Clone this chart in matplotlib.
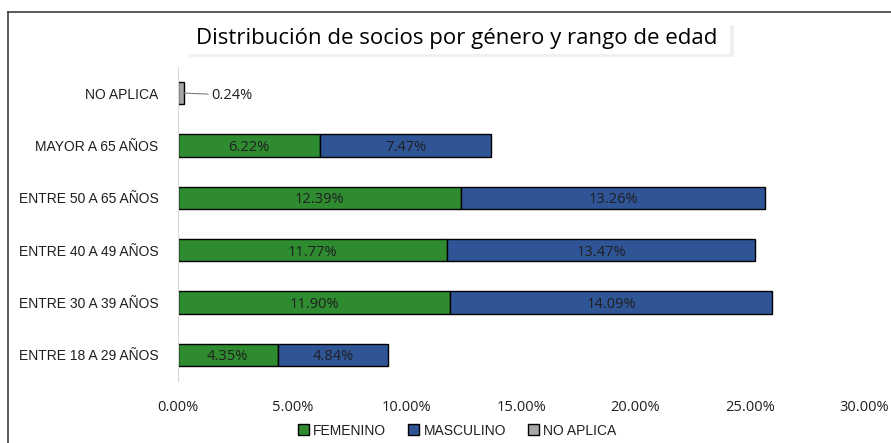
import matplotlib.pyplot as plt
from matplotlib.patches import Rectangle
from matplotlib.ticker import FuncFormatter

# ── data ─────────────────────────────────────
categories = ["ENTRE 18 A 29 AÑOS", "ENTRE 30 A 39 AÑOS", "ENTRE 40 A 49 AÑOS",
              "ENTRE 50 A 65 AÑOS", "MAYOR A 65 AÑOS", "NO APLICA"]
femenino  = [4.35, 11.90, 11.77, 12.39, 6.22, 0.0]
masculino = [4.84, 14.09, 13.47, 13.26, 7.47, 0.0]
no_aplica = [0.0, 0.0, 0.0, 0.0, 0.0, 0.24]
x_ticks   = [0, 5, 10, 15, 20, 25, 30]

GREEN = "#2e8b30"
BLUE  = "#2f5597"
GRAY  = "#a6a6a6"
TXT   = "#1f1f1f"
LAB_FONT = ["Liberation Sans", "DejaVu Sans"]
NUM_FONT = ["Open Sans", "DejaVu Sans"]

plt.rcParams["font.family"] = LAB_FONT

fig = plt.figure(figsize=(8.91, 4.43), dpi=100)
ax = fig.add_axes([0.1998, 0.140, 0.770, 0.709])

y = list(range(len(categories)))
h = 0.43
ax.barh(y, femenino, height=h, color=GREEN, edgecolor="black", linewidth=1.0,
        label="FEMENINO")
ax.barh(y, masculino, left=femenino, height=h, color=BLUE, edgecolor="black",
        linewidth=1.0, label="MASCULINO")
ax.barh(y, no_aplica, height=h, color=GRAY, edgecolor="black", linewidth=1.0,
        label="NO APLICA")

for i in y:
    if femenino[i] > 0:
        ax.text(femenino[i] / 2, i, f"{femenino[i]:.2f}%", ha="center",
                va="center_baseline", fontsize=10.5, color=TXT, family=NUM_FONT)
    if masculino[i] > 0:
        ax.text(femenino[i] + masculino[i] / 2, i, f"{masculino[i]:.2f}%",
                ha="center", va="center_baseline", fontsize=10.5, color=TXT,
                family=NUM_FONT)
    if no_aplica[i] > 0:
        ax.annotate(f"{no_aplica[i]:.2f}%", xy=(no_aplica[i], i),
                    xytext=(no_aplica[i] + 1.2, i), ha="left",
                    va="center_baseline", fontsize=10.5, color=TXT, family=NUM_FONT,
                    arrowprops=dict(arrowstyle="-", color="#7f7f7f", lw=0.8,
                                    shrinkA=0, shrinkB=0))

ax.set_xlim(0, 30)
ax.set_ylim(-0.5, len(categories) - 0.5)
ax.set_xticks(x_ticks)
ax.xaxis.set_major_formatter(FuncFormatter(lambda v, p: f"{v:.2f}%"))
ax.set_yticks(y)
ax.set_yticklabels(categories, fontsize=10)
ax.tick_params(axis="both", length=0, colors=TXT)
ax.tick_params(axis="x", pad=14)
ax.tick_params(axis="y", pad=14)
for lab in ax.get_xticklabels():
    lab.set_family(NUM_FONT)
    lab.set_fontsize(10.5)
for s in ["top", "right", "bottom"]:
    ax.spines[s].set_visible(False)
ax.spines["left"].set_color("#d9d9d9")

# title with soft shadowed box
fig.patches.append(Rectangle((0.212, 0.872), 0.612, 0.072, transform=fig.transFigure,
                             facecolor="#f0f0f0", edgecolor="none", zorder=0))
fig.patches.append(Rectangle((0.207, 0.878), 0.612, 0.072, transform=fig.transFigure,
                             facecolor="white", edgecolor="none", zorder=1))
fig.text(0.513, 0.914, "Distribución de socios por género y rango de edad",
         ha="center", va="center", fontsize=16, color="black",
         family=NUM_FONT, zorder=2)

# outer frame (left and top edges visible)
fig.add_artist(plt.Line2D([0.009, 0.009], [0.0, 0.973], transform=fig.transFigure,
                          color="#404040", lw=1.2))
fig.add_artist(plt.Line2D([0.009, 1.0], [0.973, 0.973], transform=fig.transFigure,
                          color="#404040", lw=1.2))

fig.legend(handles=ax.containers, labels=["FEMENINO", "MASCULINO", "NO APLICA"],
           loc="center", bbox_to_anchor=(0.513, 0.028), ncol=3, frameon=False,
           fontsize=10, handlelength=0.8, handleheight=0.8, handletextpad=0.3,
           columnspacing=1.6, labelcolor=TXT)

fig.savefig("out.png", dpi=100, facecolor="white")
